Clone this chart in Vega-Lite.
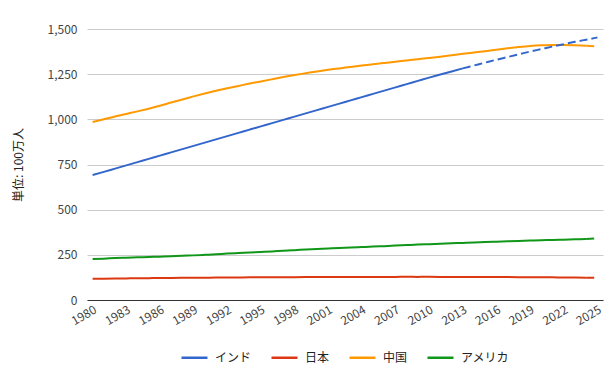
{
  "$schema": "https://vega.github.io/schema/vega-lite/v6.json",
  "width": 516,
  "height": 271,
  "autosize": {"type": "none"},
  "padding": {"left": 87, "top": 29, "right": 12, "bottom": 70},
  "background": "white",
  "config": {
    "font": "Noto Sans CJK JP",
    "view": {"stroke": null},
    "axis": {"labelFont": "Noto Sans CJK JP", "titleFont": "Noto Sans CJK JP"}
  },
  "data": {
    "values": [
      {"country":"インド","year":1980,"value":692},{"country":"インド","year":1981,"value":709},{"country":"インド","year":1982,"value":727},{"country":"インド","year":1983,"value":745},{"country":"インド","year":1984,"value":763},{"country":"インド","year":1985,"value":781},{"country":"インド","year":1986,"value":799},{"country":"インド","year":1987,"value":817},{"country":"インド","year":1988,"value":835},{"country":"インド","year":1989,"value":853},{"country":"インド","year":1990,"value":871},{"country":"インド","year":1991,"value":889},{"country":"インド","year":1992,"value":907},{"country":"インド","year":1993,"value":925},{"country":"インド","year":1994,"value":943},{"country":"インド","year":1995,"value":961},{"country":"インド","year":1996,"value":979},{"country":"インド","year":1997,"value":997},{"country":"インド","year":1998,"value":1015},{"country":"インド","year":1999,"value":1033},{"country":"インド","year":2000,"value":1051},{"country":"インド","year":2001,"value":1069},{"country":"インド","year":2002,"value":1087},{"country":"インド","year":2003,"value":1105},{"country":"インド","year":2004,"value":1123},{"country":"インド","year":2005,"value":1141},{"country":"インド","year":2006,"value":1159},{"country":"インド","year":2007,"value":1177},{"country":"インド","year":2008,"value":1195},{"country":"インド","year":2009,"value":1213},{"country":"インド","year":2010,"value":1231},{"country":"インド","year":2011,"value":1248},{"country":"インド","year":2012,"value":1265},{"country":"インド","year":2013,"value":1282},{"country":"インド","year":2014,"value":1298},{"country":"インド","year":2015,"value":1314},{"country":"インド","year":2016,"value":1330},{"country":"インド","year":2017,"value":1345},{"country":"インド","year":2018,"value":1360},{"country":"インド","year":2019,"value":1375},{"country":"インド","year":2020,"value":1389},{"country":"インド","year":2021,"value":1403},{"country":"インド","year":2022,"value":1416},{"country":"インド","year":2023,"value":1429},{"country":"インド","year":2024,"value":1441},{"country":"インド","year":2025,"value":1453},
      {"country":"日本","year":1980,"value":117.1},{"country":"日本","year":1981,"value":117.9},{"country":"日本","year":1982,"value":118.7},{"country":"日本","year":1983,"value":119.5},{"country":"日本","year":1984,"value":120.3},{"country":"日本","year":1985,"value":121.0},{"country":"日本","year":1986,"value":121.7},{"country":"日本","year":1987,"value":122.3},{"country":"日本","year":1988,"value":122.7},{"country":"日本","year":1989,"value":123.2},{"country":"日本","year":1990,"value":123.6},{"country":"日本","year":1991,"value":124.0},{"country":"日本","year":1992,"value":124.5},{"country":"日本","year":1993,"value":124.9},{"country":"日本","year":1994,"value":125.3},{"country":"日本","year":1995,"value":125.6},{"country":"日本","year":1996,"value":125.9},{"country":"日本","year":1997,"value":126.2},{"country":"日本","year":1998,"value":126.5},{"country":"日本","year":1999,"value":126.7},{"country":"日本","year":2000,"value":126.9},{"country":"日本","year":2001,"value":127.3},{"country":"日本","year":2002,"value":127.5},{"country":"日本","year":2003,"value":127.7},{"country":"日本","year":2004,"value":127.8},{"country":"日本","year":2005,"value":127.8},{"country":"日本","year":2006,"value":127.9},{"country":"日本","year":2007,"value":128.0},{"country":"日本","year":2008,"value":128.1},{"country":"日本","year":2009,"value":128.0},{"country":"日本","year":2010,"value":128.1},{"country":"日本","year":2011,"value":127.8},{"country":"日本","year":2012,"value":127.6},{"country":"日本","year":2013,"value":127.4},{"country":"日本","year":2014,"value":127.2},{"country":"日本","year":2015,"value":127.1},{"country":"日本","year":2016,"value":127.0},{"country":"日本","year":2017,"value":126.7},{"country":"日本","year":2018,"value":126.4},{"country":"日本","year":2019,"value":126.2},{"country":"日本","year":2020,"value":126.1},{"country":"日本","year":2021,"value":125.5},{"country":"日本","year":2022,"value":124.9},{"country":"日本","year":2023,"value":124.4},{"country":"日本","year":2024,"value":123.8},{"country":"日本","year":2025,"value":123.2},
      {"country":"中国","year":1980,"value":985},{"country":"中国","year":1981,"value":1000},{"country":"中国","year":1982,"value":1016},{"country":"中国","year":1983,"value":1030},{"country":"中国","year":1984,"value":1044},{"country":"中国","year":1985,"value":1059},{"country":"中国","year":1986,"value":1075},{"country":"中国","year":1987,"value":1093},{"country":"中国","year":1988,"value":1110},{"country":"中国","year":1989,"value":1127},{"country":"中国","year":1990,"value":1143},{"country":"中国","year":1991,"value":1158},{"country":"中国","year":1992,"value":1172},{"country":"中国","year":1993,"value":1185},{"country":"中国","year":1994,"value":1198},{"country":"中国","year":1995,"value":1210},{"country":"中国","year":1996,"value":1222},{"country":"中国","year":1997,"value":1234},{"country":"中国","year":1998,"value":1245},{"country":"中国","year":1999,"value":1255},{"country":"中国","year":2000,"value":1265},{"country":"中国","year":2001,"value":1274},{"country":"中国","year":2002,"value":1282},{"country":"中国","year":2003,"value":1290},{"country":"中国","year":2004,"value":1298},{"country":"中国","year":2005,"value":1305},{"country":"中国","year":2006,"value":1312},{"country":"中国","year":2007,"value":1319},{"country":"中国","year":2008,"value":1326},{"country":"中国","year":2009,"value":1333},{"country":"中国","year":2010,"value":1340},{"country":"中国","year":2011,"value":1347},{"country":"中国","year":2012,"value":1355},{"country":"中国","year":2013,"value":1363},{"country":"中国","year":2014,"value":1370},{"country":"中国","year":2015,"value":1377},{"country":"中国","year":2016,"value":1385},{"country":"中国","year":2017,"value":1393},{"country":"中国","year":2018,"value":1400},{"country":"中国","year":2019,"value":1406},{"country":"中国","year":2020,"value":1410},{"country":"中国","year":2021,"value":1412},{"country":"中国","year":2022,"value":1412},{"country":"中国","year":2023,"value":1410},{"country":"中国","year":2024,"value":1407},{"country":"中国","year":2025,"value":1404},
      {"country":"アメリカ","year":1980,"value":227},{"country":"アメリカ","year":1981,"value":229},{"country":"アメリカ","year":1982,"value":232},{"country":"アメリカ","year":1983,"value":234},{"country":"アメリカ","year":1984,"value":236},{"country":"アメリカ","year":1985,"value":238},{"country":"アメリカ","year":1986,"value":240},{"country":"アメリカ","year":1987,"value":242},{"country":"アメリカ","year":1988,"value":245},{"country":"アメリカ","year":1989,"value":247},{"country":"アメリカ","year":1990,"value":250},{"country":"アメリカ","year":1991,"value":253},{"country":"アメリカ","year":1992,"value":257},{"country":"アメリカ","year":1993,"value":260},{"country":"アメリカ","year":1994,"value":263},{"country":"アメリカ","year":1995,"value":266},{"country":"アメリカ","year":1996,"value":269},{"country":"アメリカ","year":1997,"value":273},{"country":"アメリカ","year":1998,"value":276},{"country":"アメリカ","year":1999,"value":279},{"country":"アメリカ","year":2000,"value":282},{"country":"アメリカ","year":2001,"value":285},{"country":"アメリカ","year":2002,"value":288},{"country":"アメリカ","year":2003,"value":290},{"country":"アメリカ","year":2004,"value":293},{"country":"アメリカ","year":2005,"value":296},{"country":"アメリカ","year":2006,"value":298},{"country":"アメリカ","year":2007,"value":301},{"country":"アメリカ","year":2008,"value":304},{"country":"アメリカ","year":2009,"value":307},{"country":"アメリカ","year":2010,"value":309},{"country":"アメリカ","year":2011,"value":311},{"country":"アメリカ","year":2012,"value":314},{"country":"アメリカ","year":2013,"value":316},{"country":"アメリカ","year":2014,"value":318},{"country":"アメリカ","year":2015,"value":321},{"country":"アメリカ","year":2016,"value":323},{"country":"アメリカ","year":2017,"value":325},{"country":"アメリカ","year":2018,"value":327},{"country":"アメリカ","year":2019,"value":329},{"country":"アメリカ","year":2020,"value":331},{"country":"アメリカ","year":2021,"value":332},{"country":"アメリカ","year":2022,"value":334},{"country":"アメリカ","year":2023,"value":336},{"country":"アメリカ","year":2024,"value":338},{"country":"アメリカ","year":2025,"value":341}
    ]
  },
  "encoding": {
    "x": {
      "field": "year",
      "type": "ordinal",
      "scale": {"type": "point", "padding": 0.5},
      "axis": {
        "title": null,
        "values": [1980,1983,1986,1989,1992,1995,1998,2001,2004,2007,2010,2013,2016,2019,2022,2025],
        "labelAngle": -30,
        "labelAlign": "right",
        "labelBaseline": "top",
        "labelFontSize": 12,
        "labelColor": "#444444",
        "labelPadding": 4,
        "ticks": false,
        "domainColor": "#333333",
        "domainWidth": 1,
        "grid": false
      }
    },
    "y": {
      "field": "value",
      "type": "quantitative",
      "scale": {"domain": [0, 1500], "nice": false},
      "axis": {
        "title": "単位: 100万人",
        "titleFontSize": 12,
        "titleFontWeight": "normal",
        "titleColor": "#222222",
        "titlePadding": 22,
        "values": [0,250,500,750,1000,1250,1500],
        "format": ",d",
        "labelFontSize": 12,
        "labelColor": "#444444",
        "labelPadding": 10,
        "domain": false,
        "ticks": false,
        "gridColor": "#cccccc",
        "gridWidth": 1
      }
    },
    "color": {
      "field": "country",
      "type": "nominal",
      "scale": {
        "domain": ["インド","日本","中国","アメリカ"],
        "range": ["#3366cc","#dc3912","#ff9900","#109618"]
      },
      "legend": {
        "title": null,
        "orient": "none",
        "legendX": 93,
        "legendY": 314,
        "direction": "horizontal",
        "symbolType": "stroke",
        "symbolSize": 676,
        "symbolStrokeWidth": 2.5,
        "labelFontSize": 12,
        "labelColor": "#222222",
        "labelOffset": 6,
        "columnPadding": 14
      }
    }
  },
  "layer": [
    {
      "transform": [{"filter": "datum.year <= (datum.country === 'インド' ? 2013 : 2024)"}],
      "mark": {"type": "line", "strokeWidth": 2, "interpolate": "monotone"}
    },
    {
      "transform": [{"filter": "datum.year >= (datum.country === 'インド' ? 2013 : 2024)"}],
      "mark": {"type": "line", "strokeWidth": 2, "strokeDash": [8, 4], "interpolate": "monotone"}
    }
  ]
}
